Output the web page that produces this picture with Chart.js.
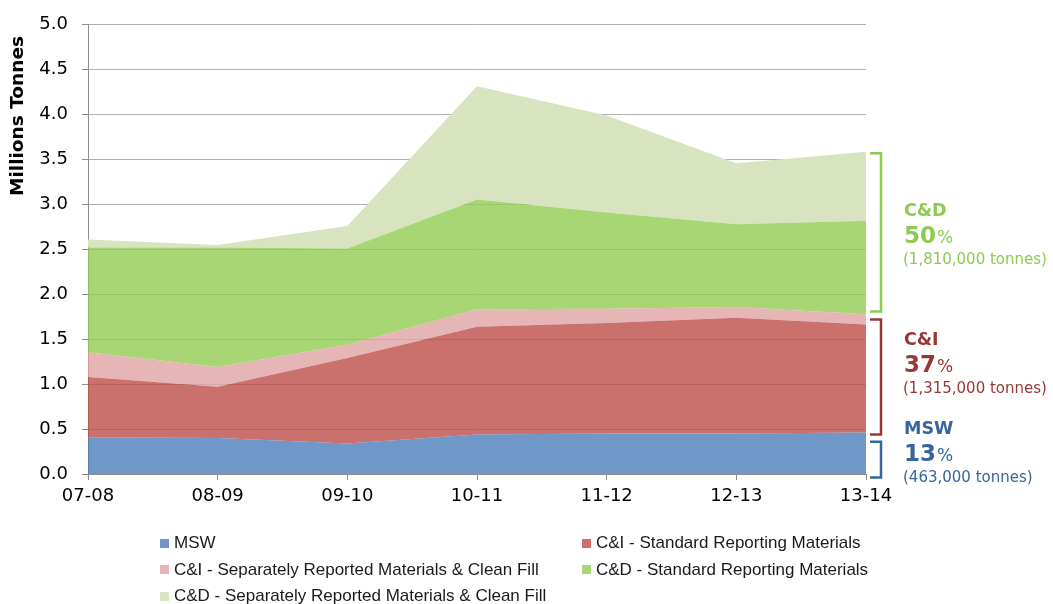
<!DOCTYPE html>
<html lang="en">
  <head>
    <meta charset="UTF-8" />
    <title>Waste generation by stream</title>
    <style>
      html, body { margin: 0; padding: 0; background: #fff; }
      #wrap { position: relative; width: 1053px; height: 604px; }
      #chart { position: absolute; left: 0; top: 0; }
      #legend {
        position: absolute; left: 160px; top: 533px;
        display: grid; grid-template-columns: 422px 300px; row-gap: 6.5px;
        font-family: "Liberation Sans", Arial, sans-serif; font-size: 17px; color: #1a1a1a;
      }
      #legend div { display: flex; align-items: center; height: 20px; white-space: nowrap; }
      #legend span.box { width: 9px; height: 9px; margin-right: 5px; display: inline-block; }
    </style>
  </head>
  <body>
    <div id="wrap">
      <canvas id="chart" width="1053" height="604"></canvas>
      <div id="legend"></div>
    </div>

    <script src="https://cdn.jsdelivr.net/npm/chart.js"></script>
    <script>
      // values, millions of tonnes
      const years = ['07-08', '08-09', '09-10', '10-11', '11-12', '12-13', '13-14'];
      const msw = [0.41, 0.40, 0.34, 0.44, 0.45, 0.45, 0.463];
      const ciStandard = [0.67, 0.57, 0.95, 1.20, 1.23, 1.29, 1.20];
      const ciSeparate = [0.275, 0.22, 0.15, 0.195, 0.16, 0.12, 0.115];
      const cdStandard = [1.165, 1.33, 1.07, 1.22, 1.07, 0.92, 1.04];
      const cdSeparate = [0.09, 0.03, 0.25, 1.26, 1.08, 0.68, 0.77];

      const seriesNames = [
        'MSW',
        'C&I - Standard Reporting Materials',
        'C&I - Separately Reported Materials & Clean Fill',
        'C&D - Standard Reporting Materials',
        'C&D - Separately Reported Materials & Clean Fill'
      ];

      // share labels on the right (13-14)
      const groupNames = ['C&D', 'C&I', 'MSW'];
      const groupPct = ['50', '37', '13'];
      const groupTonnes = ['(1,810,000 tonnes)', '(1,315,000 tonnes)', '(463,000 tonnes)'];

      // colours as seen on white, and the alpha used for the fill
      const colours = ['#6f97c8', '#cb716d', '#e5b6b5', '#a8d674', '#d8e4bf'];
      const alphas = [0.8, 0.8, 0.8, 0.8, 1];
      const groupColours = ['#8dcb50', '#973836', '#37659c'];

      function fillFor(hex, a) {
        const n = parseInt(hex.slice(1), 16);
        const c = [(n >> 16) & 255, (n >> 8) & 255, n & 255].map(v => Math.round((v - (1 - a) * 255) / a));
        return 'rgba(' + c.join(',') + ',' + a + ')';
      }

      const seriesData = [msw, ciStandard, ciSeparate, cdStandard, cdSeparate];
      const datasets = seriesData.map((d, i) => ({
        label: seriesNames[i],
        data: d,
        backgroundColor: fillFor(colours[i], alphas[i]),
        borderWidth: 0,
        pointRadius: 0,
        fill: i === 0 ? 'origin' : '-1',
        tension: 0
      }));

      const tickFont = { family: '"DejaVu Sans", Verdana, sans-serif', size: 18 };

      const extras = {
        id: 'extras',
        afterDraw(chart) {
          const ctx = chart.ctx;
          const y = chart.scales.y;
          ctx.save();
          // y axis title
          ctx.translate(18, 116);
          ctx.rotate(-Math.PI / 2);
          ctx.font = 'bold 18.5px "DejaVu Sans", Verdana, sans-serif';
          ctx.fillStyle = '#000';
          ctx.textAlign = 'center';
          ctx.textBaseline = 'middle';
          ctx.fillText('Millions Tonnes', 0, 0);
          ctx.restore();

          // brackets, in value units
          const ranges = [[3.57, 1.81], [1.72, 0.44], [0.36, -0.04]];
          const textY = [211, 340, 429];
          ranges.forEach((r, i) => {
            const top = y.getPixelForValue(r[0]);
            const bot = y.getPixelForValue(r[1]);
            ctx.save();
            ctx.strokeStyle = groupColours[i];
            ctx.lineWidth = 2.5;
            ctx.beginPath();
            ctx.moveTo(870, top);
            ctx.lineTo(881, top);
            ctx.lineTo(881, bot);
            ctx.lineTo(870, bot);
            ctx.stroke();

            const tx = 904;
            const ty = textY[i];
            ctx.fillStyle = groupColours[i];
            ctx.textBaseline = 'middle';
            ctx.textAlign = 'left';
            ctx.font = 'bold 17.5px "DejaVu Sans", Verdana, sans-serif';
            ctx.fillText(groupNames[i], tx, ty);
            ctx.font = 'bold 23px "DejaVu Sans", Verdana, sans-serif';
            ctx.fillText(groupPct[i], tx, ty + 26);
            const w = ctx.measureText(groupPct[i]).width;
            ctx.font = '17px "DejaVu Sans", Verdana, sans-serif';
            ctx.fillText('%', tx + w + 1, ty + 28);
            ctx.font = '15px "DejaVu Sans", Verdana, sans-serif';
            ctx.fillText(groupTonnes[i], tx - 1, ty + 49);
            ctx.restore();
          });
        }
      };

      new Chart(document.getElementById('chart'), {
        type: 'line',
        data: { labels: years, datasets: datasets },
        options: {
          responsive: false,
          animation: false,
          layout: { padding: { top: 24, right: 187, left: 0, bottom: 0 } },
          plugins: { legend: { display: false }, tooltip: { enabled: false } },
          scales: {
            x: {
              offset: false,
              grid: { display: true, drawOnChartArea: false, tickLength: 6, tickColor: '#8c8c8c' },
              border: { color: '#8c8c8c' },
              ticks: { font: tickFont, color: '#000', padding: 6, maxRotation: 0 },
              afterFit(scale) { scale.height = 130; }
            },
            y: {
              stacked: true,
              min: 0,
              max: 5,
              grid: { color: '#b0b0b0', tickLength: 6, tickColor: '#8c8c8c' },
              border: { color: '#8c8c8c' },
              ticks: {
                stepSize: 0.5,
                font: tickFont,
                color: '#000',
                padding: 14,
                callback: v => v.toFixed(1)
              },
              afterFit(scale) { scale.width = 88; }
            }
          }
        },
        plugins: [extras]
      });

      // legend in two columns, built from the series
      const legend = document.getElementById('legend');
      seriesNames.forEach((name, i) => {
        const item = document.createElement('div');
        const box = document.createElement('span');
        box.className = 'box';
        box.style.background = colours[i];
        item.appendChild(box);
        item.appendChild(document.createTextNode(name));
        legend.appendChild(item);
      });
    </script>
  </body>
</html>
